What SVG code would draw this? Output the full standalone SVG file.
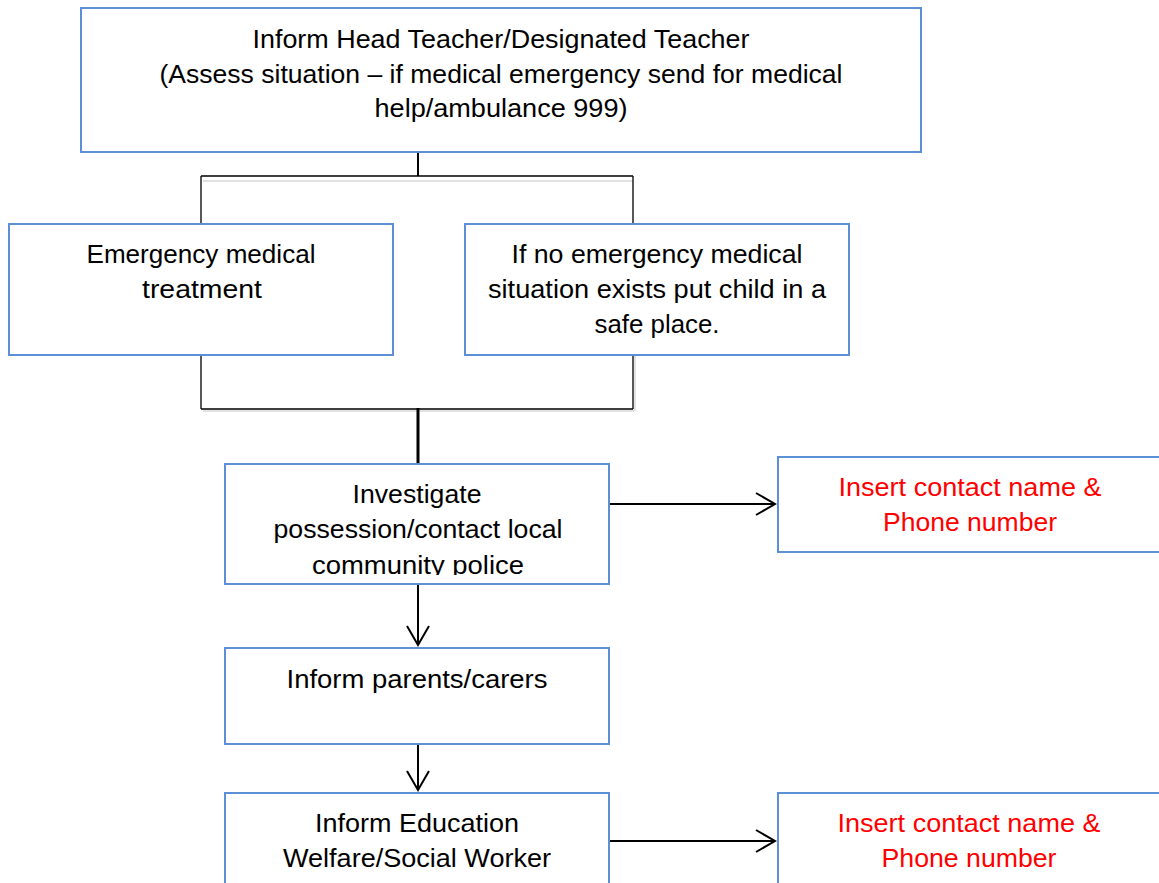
<svg xmlns="http://www.w3.org/2000/svg" width="1159" height="883" viewBox="0 0 1159 883">
<style>
.box{fill:#ffffff;stroke:#5B8FD6;stroke-width:2}
.t{font-family:"Liberation Sans",Arial,sans-serif;font-size:25px;fill:#000000;text-anchor:middle}
.red{fill:#FF0000}
.ln{stroke:#000000;stroke-width:1.3;fill:none}
.sh{stroke:#e2e2e2;stroke-width:2;fill:none}
.arr{stroke:#000000;stroke-width:2;fill:none;marker-end:url(#chev)}
</style>
<defs>
<marker id="chev" markerUnits="userSpaceOnUse" markerWidth="24" markerHeight="26" refX="20" refY="11" orient="auto" viewBox="-2 -2 24 26">
<path d="M1,0 L20,11 L1,22" fill="none" stroke="#000000" stroke-width="2"/>
</marker>
<clipPath id="clipInv"><rect x="225" y="464" width="384" height="111"/></clipPath>
</defs>
<rect width="1159" height="883" fill="#ffffff"/>
<g id="connectors">
<path class="sh" d="M203,181 H633"/>
<path class="sh" d="M203,411 H634 M635,356 V411"/>
<path class="ln" d="M201,176 H633 M201,176 V224 M633,176 V224"/>
<path class="ln" d="M201,355 V409 M633,355 V409 M201,409 H633"/>
<path d="M418,152 V176" stroke="#000" stroke-width="2" fill="none"/>
<path d="M418,408 V464" stroke="#000" stroke-width="3" fill="none"/>
<path class="arr" d="M609,504 H775"/>
<path class="arr" d="M418,584 V645"/>
<path class="arr" d="M418,744 V790"/>
<path class="arr" d="M609,841 H775"/>
</g>
<g id="node-head">
<rect class="box" x="81" y="8" width="840" height="144"/>
<text class="t" x="501" y="48" textLength="497" lengthAdjust="spacingAndGlyphs">Inform Head Teacher/Designated Teacher</text>
<text class="t" x="501" y="83" textLength="683" lengthAdjust="spacingAndGlyphs">(Assess situation – if medical emergency send for medical</text>
<text class="t" x="501" y="117" textLength="253" lengthAdjust="spacingAndGlyphs">help/ambulance 999)</text>
</g>
<g id="node-emergency">
<rect class="box" x="9" y="224" width="384" height="131"/>
<text class="t" x="201" y="263" textLength="229" lengthAdjust="spacingAndGlyphs">Emergency medical</text>
<text class="t" x="202" y="298" textLength="120" lengthAdjust="spacingAndGlyphs">treatment</text>
</g>
<g id="node-noemergency">
<rect class="box" x="465" y="224" width="384" height="131"/>
<text class="t" x="657" y="263" textLength="291" lengthAdjust="spacingAndGlyphs">If no emergency medical</text>
<text class="t" x="657" y="298" textLength="338" lengthAdjust="spacingAndGlyphs">situation exists put child in a</text>
<text class="t" x="657" y="333" textLength="125" lengthAdjust="spacingAndGlyphs">safe place.</text>
</g>
<g id="node-investigate">
<rect class="box" x="225" y="464" width="384" height="120"/>
<g clip-path="url(#clipInv)">
<text class="t" x="417" y="503" textLength="129" lengthAdjust="spacingAndGlyphs">Investigate</text>
<text class="t" x="418" y="538" textLength="289" lengthAdjust="spacingAndGlyphs">possession/contact local</text>
<text class="t" x="418" y="574" textLength="212" lengthAdjust="spacingAndGlyphs">community police</text>
</g>
</g>
<g id="node-contact1">
<rect class="box" x="778" y="457" width="400" height="95"/>
<text class="t red" x="970" y="496" textLength="263" lengthAdjust="spacingAndGlyphs">Insert contact name &amp;</text>
<text class="t red" x="970" y="531" textLength="174" lengthAdjust="spacingAndGlyphs">Phone number</text>
</g>
<g id="node-parents">
<rect class="box" x="225" y="648" width="384" height="96"/>
<text class="t" x="417" y="688" textLength="261" lengthAdjust="spacingAndGlyphs">Inform parents/carers</text>
</g>
<g id="node-education">
<rect class="box" x="225" y="793" width="384" height="110"/>
<text class="t" x="417" y="832" textLength="204" lengthAdjust="spacingAndGlyphs">Inform Education</text>
<text class="t" x="417" y="867" textLength="268" lengthAdjust="spacingAndGlyphs">Welfare/Social Worker</text>
</g>
<g id="node-contact2">
<rect class="box" x="778" y="793" width="400" height="110"/>
<text class="t red" x="969" y="832" textLength="263" lengthAdjust="spacingAndGlyphs">Insert contact name &amp;</text>
<text class="t red" x="969" y="867" textLength="175" lengthAdjust="spacingAndGlyphs">Phone number</text>
</g>
</svg>
